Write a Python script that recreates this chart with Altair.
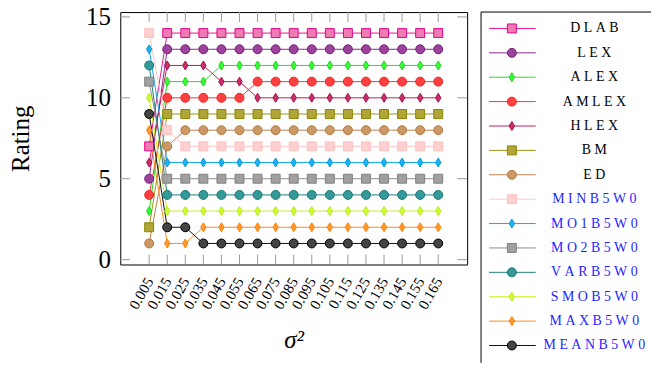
import altair as alt
import pandas as pd

# noise variance levels on the horizontal axis
sigma2 = [0.005, 0.015, 0.025, 0.035, 0.045, 0.055, 0.065, 0.075, 0.085,
          0.095, 0.105, 0.115, 0.125, 0.135, 0.145, 0.155, 0.165]

methods = ["DLAB", "LEX", "ALEX", "AMLEX", "HLEX", "BM", "ED",
           "MINB5W0", "MO1B5W0", "MO2B5W0", "VARB5W0", "SMOB5W0",
           "MAXB5W0", "MEANB5W0"]

# rating of every method at each noise level
dlab = [7, 14, 14, 14, 14, 14, 14, 14, 14, 14, 14, 14, 14, 14, 14, 14, 14]
lex = [5, 13, 13, 13, 13, 13, 13, 13, 13, 13, 13, 13, 13, 13, 13, 13, 13]
alex = [3, 11, 11, 11, 12, 12, 12, 12, 12, 12, 12, 12, 12, 12, 12, 12, 12]
amlex = [4, 10, 10, 10, 10, 10, 11, 11, 11, 11, 11, 11, 11, 11, 11, 11, 11]
hlex = [6, 12, 12, 12, 11, 11, 10, 10, 10, 10, 10, 10, 10, 10, 10, 10, 10]
bm = [2, 9, 9, 9, 9, 9, 9, 9, 9, 9, 9, 9, 9, 9, 9, 9, 9]
ed = [1, 7, 8, 8, 8, 8, 8, 8, 8, 8, 8, 8, 8, 8, 8, 8, 8]
minb5w0 = [14, 8, 7, 7, 7, 7, 7, 7, 7, 7, 7, 7, 7, 7, 7, 7, 7]
mo1b5w0 = [13, 6, 6, 6, 6, 6, 6, 6, 6, 6, 6, 6, 6, 6, 6, 6, 6]
mo2b5w0 = [11, 5, 5, 5, 5, 5, 5, 5, 5, 5, 5, 5, 5, 5, 5, 5, 5]
varb5w0 = [12, 4, 4, 4, 4, 4, 4, 4, 4, 4, 4, 4, 4, 4, 4, 4, 4]
smob5w0 = [10, 3, 3, 3, 3, 3, 3, 3, 3, 3, 3, 3, 3, 3, 3, 3, 3]
maxb5w0 = [8, 1, 1, 2, 2, 2, 2, 2, 2, 2, 2, 2, 2, 2, 2, 2, 2]
meanb5w0 = [9, 2, 2, 1, 1, 1, 1, 1, 1, 1, 1, 1, 1, 1, 1, 1, 1]

series = [dlab, lex, alex, amlex, hlex, bm, ed, minb5w0, mo1b5w0,
          mo2b5w0, varb5w0, smob5w0, maxb5w0, meanb5w0]

y_ticks = [0, 5, 10, 15]

# styling per method
DIAMOND = "M0,-1L0.6,0L0,1L-0.6,0Z"
shapes = ["square", "circle", DIAMOND, "circle", DIAMOND, "square", "circle",
          "square", DIAMOND, "square", "circle", DIAMOND, DIAMOND, "circle"]
line_colors = ["#e6168c", "#8a2a8a", "#22e022", "#ff3030", "#c41858", "#9a9410",
               "#c08050", "#ffc8c8", "#10a8ec", "#8c8c8c", "#1e8080", "#c8f020",
               "#ff8a1a", "#111111"]
fill_colors = ["#f07ab2", "#9c449c", "#33ff33", "#ff4040", "#c83068", "#b0a638",
               "#cc9966", "#ffd0d0", "#18b4f4", "#a0a0a0", "#339999", "#ccff33",
               "#ff9933", "#444444"]
edge_colors = ["#e0008a", "#7a1a7a", "#20d020", "#ee2020", "#a8104a", "#8a8400",
               "#b07840", "#ffc0c0", "#0898d8", "#808080", "#1a7474", "#b8e818",
               "#ff8000", "#000000"]
blue_label = "#1f1fff"

SERIF = "Liberation Serif"
W, H = 349, 254
TICK = 10

rows = []
for name, vals in zip(methods, series):
    for s, r in zip(sigma2, vals):
        rows.append({"method": name, "sigma2": s, "rating": r})
df = pd.DataFrame(rows)

color_scale = alt.Scale(domain=methods, range=line_colors)
fill_scale = alt.Scale(domain=methods, range=fill_colors)
stroke_scale = alt.Scale(domain=methods, range=edge_colors)
shape_scale = alt.Scale(domain=methods, range=shapes)

x_scale = alt.Scale(domain=[-0.011, 0.181], nice=False, zero=False)
y_scale = alt.Scale(domain=[-0.3, 15.3], nice=False, zero=False)

x_axis = alt.Axis(values=sigma2, format=".3f", labelAngle=300, labelAlign="right",
                  labelBaseline="middle", labelPadding=14, labelFont=SERIF,
                  labelFontSize=15, labelColor="black", labelOverlap=False,
                  labelFlush=False, labelBound=False, ticks=False, domain=False,
                  grid=False, title="σ²", titleFont=SERIF, titleFontSize=25,
                  titleFontStyle="italic", titleFontWeight="normal",
                  titleColor="black", titleBaseline="alphabetic", titleY=84)
y_axis = alt.Axis(values=y_ticks, labelFont=SERIF, labelFontSize=25,
                  labelColor="black", labelPadding=10, ticks=False, domain=False,
                  grid=False, title="Rating", titleFont=SERIF, titleFontSize=25,
                  titleFontWeight="normal", titleColor="black", titleAngle=270,
                  titleBaseline="alphabetic", titleAlign="center",
                  titleX=-92, titleY=H / 2)
x_enc = alt.X("sigma2:Q", scale=x_scale, axis=x_axis)
y_enc = alt.Y("rating:Q", scale=y_scale, axis=y_axis)

base = alt.Chart(df)
lines = base.mark_line(strokeWidth=1).encode(
    x=x_enc, y=y_enc,
    color=alt.Color("method:N", scale=color_scale, legend=None),
)
points = base.mark_point(filled=True, size=81, strokeWidth=1, opacity=1).encode(
    x=x_enc, y=y_enc,
    fill=alt.Fill("method:N", scale=fill_scale, legend=None),
    stroke=alt.Stroke("method:N", scale=stroke_scale, legend=None),
    shape=alt.Shape("method:N", scale=shape_scale, legend=None),
)

# inward tick marks on all four sides of the frame
xt = alt.Chart(pd.DataFrame({"sigma2": sigma2}))
yt = alt.Chart(pd.DataFrame({"rating": y_ticks}))
tick_style = dict(color="#9a9a9a", strokeWidth=1)
ticks_top = xt.mark_rule(**tick_style).encode(x=x_enc, y=alt.value(0), y2=alt.value(TICK))
ticks_bottom = xt.mark_rule(**tick_style).encode(x=x_enc, y=alt.value(H), y2=alt.value(H - TICK))
ticks_left = yt.mark_rule(**tick_style).encode(y=y_enc, x=alt.value(0), x2=alt.value(TICK))
ticks_right = yt.mark_rule(**tick_style).encode(y=y_enc, x=alt.value(W), x2=alt.value(W - TICK))

plot = alt.layer(
    lines, points, ticks_top, ticks_bottom, ticks_left, ticks_right
).properties(width=W, height=H)

# legend panel
LW, LH = 171, 353
legend_df = pd.DataFrame({
    "method": methods,
    "row": list(range(len(methods))),
    "label": ["\u2005".join(m) for m in methods],
    "ink": ["black"] * 7 + [blue_label] * 7,
})
lrow = alt.Y("row:Q", scale=alt.Scale(domain=[0, 13], range=[16.5, 335.5]), axis=None)
lbase = alt.Chart(legend_df)
leg_lines = lbase.mark_rule(strokeWidth=1).encode(
    y=lrow, x=alt.value(8), x2=alt.value(55),
    color=alt.Color("method:N", scale=color_scale, legend=None),
)
leg_points = lbase.mark_point(filled=True, size=81, strokeWidth=1, opacity=1).encode(
    y=lrow, x=alt.value(31),
    fill=alt.Fill("method:N", scale=fill_scale, legend=None),
    stroke=alt.Stroke("method:N", scale=stroke_scale, legend=None),
    shape=alt.Shape("method:N", scale=shape_scale, legend=None),
)
leg_text = lbase.mark_text(font=SERIF, fontSize=14, align="center", baseline="middle").encode(
    y=lrow, x=alt.value(114), text="label:N",
    color=alt.Color("ink:N", scale=None),
)
frame_df = alt.Chart(pd.DataFrame({"row": [0]}))
leg_left = frame_df.mark_rule(color="black", strokeWidth=1).encode(
    x=alt.value(0), y=alt.value(0), y2=alt.value(LH))
leg_top = frame_df.mark_rule(color="black", strokeWidth=1).encode(
    x=alt.value(0), x2=alt.value(LW), y=alt.value(0))

legend = alt.layer(leg_lines, leg_points, leg_text, leg_left, leg_top).properties(
    width=LW, height=LH, view=alt.ViewConfig(stroke=None)
)

chart = alt.hconcat(plot, legend, spacing=12).resolve_scale(
    x="independent", y="independent", color="independent",
    fill="independent", stroke="independent", shape="independent",
).configure(
    padding={"left": 8, "top": 3, "right": 0, "bottom": 0},
    background="white",
).configure_view(stroke="black", strokeWidth=1)

chart.save("out.html", embed_options={"renderer": "svg", "actions": False})
